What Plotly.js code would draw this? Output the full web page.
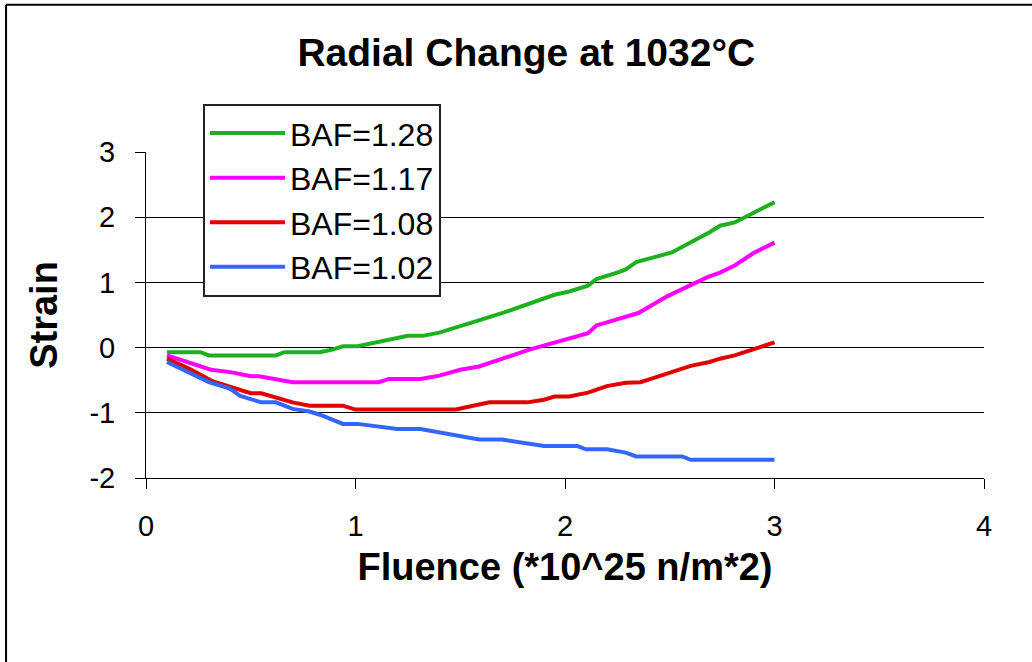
<!DOCTYPE html>
<html>
<head>
<meta charset="utf-8">
<script src="https://cdn.plot.ly/plotly-3.0.1.min.js"></script>
<style>
  html, body { margin: 0; padding: 0; background: #fff; }
  #chart { width: 1032px; height: 662px; }
</style>
</head>
<body>
<div id="chart"></div>
<script>
// Series names
const seriesNames = ["BAF=1.28", "BAF=1.17", "BAF=1.08", "BAF=1.02"];

// BAF=1.28
const xGreen = [0.1, 0.26, 0.3, 0.62, 0.66, 0.83, 0.89, 0.94, 1.01, 1.19, 1.25, 1.32, 1.4, 1.55, 1.71, 1.95, 2.02, 2.11, 2.15, 2.26, 2.29, 2.34, 2.39, 2.51, 2.69, 2.74, 2.81, 3.0];
const yGreen = [-0.07, -0.07, -0.12, -0.12, -0.07, -0.07, -0.03, 0.02, 0.02, 0.13, 0.18, 0.18, 0.23, 0.38, 0.54, 0.81, 0.86, 0.95, 1.05, 1.16, 1.2, 1.31, 1.35, 1.46, 1.77, 1.87, 1.92, 2.23];

// BAF=1.17
const xMagenta = [0.1, 0.31, 0.41, 0.5, 0.54, 0.62, 0.7, 1.11, 1.16, 1.31, 1.4, 1.5, 1.59, 1.83, 1.95, 2.02, 2.11, 2.15, 2.26, 2.35, 2.49, 2.68, 2.74, 2.81, 2.9, 3.0];
const yMagenta = [-0.12, -0.34, -0.38, -0.44, -0.44, -0.49, -0.53, -0.53, -0.48, -0.48, -0.43, -0.34, -0.29, -0.03, 0.08, 0.13, 0.22, 0.34, 0.44, 0.53, 0.79, 1.08, 1.15, 1.26, 1.45, 1.61];

// BAF=1.08
const xRed = [0.1, 0.21, 0.32, 0.4, 0.5, 0.55, 0.62, 0.7, 0.78, 0.94, 1.0, 1.48, 1.55, 1.59, 1.64, 1.82, 1.9, 1.95, 2.02, 2.11, 2.2, 2.29, 2.36, 2.41, 2.6, 2.69, 2.74, 2.81, 2.9, 3.0];
const yRed = [-0.17, -0.33, -0.52, -0.6, -0.7, -0.7, -0.76, -0.84, -0.89, -0.89, -0.95, -0.95, -0.9, -0.87, -0.84, -0.84, -0.8, -0.75, -0.75, -0.69, -0.59, -0.54, -0.53, -0.48, -0.28, -0.22, -0.17, -0.12, -0.03, 0.08];

// BAF=1.02
const xBlue = [0.1, 0.19, 0.3, 0.4, 0.45, 0.55, 0.62, 0.7, 0.78, 0.83, 0.94, 1.01, 1.2, 1.31, 1.55, 1.59, 1.7, 1.9, 2.06, 2.1, 2.2, 2.29, 2.34, 2.56, 2.6, 3.0];
const yBlue = [-0.22, -0.36, -0.53, -0.63, -0.74, -0.84, -0.84, -0.94, -0.98, -1.03, -1.17, -1.17, -1.25, -1.25, -1.38, -1.41, -1.41, -1.51, -1.51, -1.56, -1.56, -1.61, -1.67, -1.67, -1.72, -1.72];

// Tick values
const xTicks = [0, 1, 2, 3, 4];
const yTicks = [-2, -1, 0, 1, 2, 3];

const colors = ["#1fb01f", "#ff00ff", "#e00000", "#3366ff"];
const xs = [xGreen, xMagenta, xRed, xBlue];
const ys = [yGreen, yMagenta, yRed, yBlue];

const font = "Liberation Sans, Arial, sans-serif";

const traces = seriesNames.map((name, i) => ({
  type: "scatter",
  mode: "lines",
  name: name,
  x: xs[i],
  y: ys[i],
  line: { color: colors[i], width: 4 },
  hoverinfo: "x+y+name"
}));

const layout = {
  width: 1032,
  height: 662,
  margin: { l: 146, r: 48, t: 152, b: 184 },
  paper_bgcolor: "#ffffff",
  plot_bgcolor: "#ffffff",
  font: { family: font, color: "#000" },
  title: {
    text: "<b>Radial Change at 1032°C</b>",
    font: { family: font, size: 39, color: "#000" },
    xref: "container", x: 0.51, xanchor: "center",
    yref: "container", y: 0.921, yanchor: "middle"
  },
  xaxis: {
    range: [0, 4],
    tickvals: xTicks,
    ticktext: xTicks.map(String),
    showgrid: false,
    zeroline: false,
    showline: true, linecolor: "#000", linewidth: 1,
    ticks: "outside", ticklen: 10, tickcolor: "#000", tickwidth: 1,
    tickfont: { family: font, size: 29, color: "#000" },
    ticklabelstandoff: 12,
    title: {
      text: "<b>Fluence (*10^25 n/m*2)</b>",
      font: { family: font, size: 38, color: "#000" },
      standoff: 12
    },
    automargin: false,
    fixedrange: true
  },
  yaxis: {
    range: [-2, 3],
    tickvals: yTicks,
    ticktext: yTicks.map(String),
    showgrid: true, gridcolor: "#000", gridwidth: 1,
    zeroline: false,
    showline: true, linecolor: "#000", linewidth: 1,
    ticks: "outside", ticklen: 10, tickcolor: "#000", tickwidth: 1,
    tickfont: { family: font, size: 29, color: "#000" },
    ticklabelstandoff: 14,
    title: {
      text: "<b>Strain</b>",
      font: { family: font, size: 38, color: "#000" },
      standoff: 20
    },
    automargin: false,
    fixedrange: true
  },
  showlegend: true,
  legend: {
    x: 0.068, xanchor: "left",
    y: 1.148, yanchor: "top",
    bgcolor: "#ffffff",
    bordercolor: "#222",
    borderwidth: 2,
    font: { family: font, size: 32, color: "#000" },
    itemwidth: 75,
    traceorder: "normal"
  },
  shapes: [
    { type: "line", xref: "paper", yref: "paper", x0: -0.167, x1: -0.167, y0: -0.6, y1: 1.452, line: { color: "#000", width: 2 } },
    { type: "line", xref: "paper", yref: "paper", x0: -0.167, x1: 1.1, y0: 1.452, y1: 1.452, line: { color: "#000", width: 2 } }
  ]
};

Plotly.newPlot("chart", traces, layout, { displayModeBar: false, staticPlot: true });
</script>
</body>
</html>
